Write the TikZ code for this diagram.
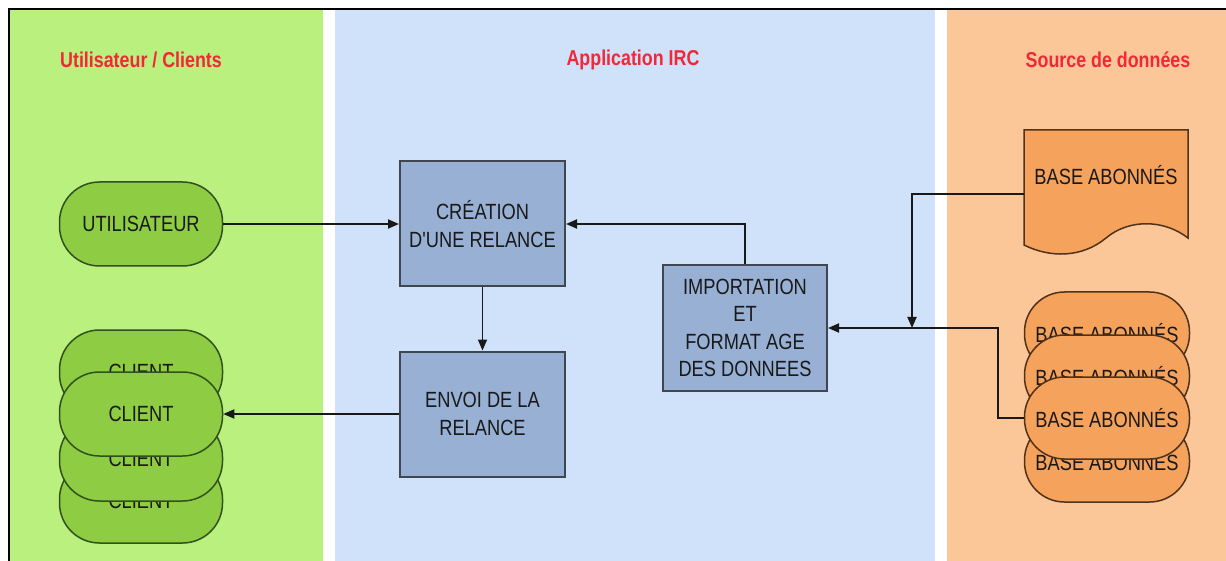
\documentclass[tikz,border=0pt]{standalone}
\usepackage{fontspec}
\setmainfont{Liberation Sans}
\newfontfamily\narrowsf[FakeStretch=0.83]{Liberation Sans}
\usetikzlibrary{arrows.meta,positioning}

\definecolor{lanegreen}{RGB}{186,240,126}
\definecolor{laneblue}{RGB}{207,226,249}
\definecolor{laneorange}{RGB}{252,199,152}
\definecolor{pillgreen}{RGB}{141,204,67}
\definecolor{pillgreenline}{RGB}{50,80,30}
\definecolor{boxblue}{RGB}{151,176,211}
\definecolor{boxline}{RGB}{64,70,80}
\definecolor{pillorange}{RGB}{245,162,92}
\definecolor{pillorangeline}{RGB}{80,50,25}
\definecolor{titlered}{RGB}{240,40,55}

\begin{document}
\begin{tikzpicture}[x=1pt,y=-1pt]
    \tikzset{>={Triangle[length=11pt,width=9pt]}}
    \tikzset{lane title/.style={text=titlered,font=\narrowsf\bfseries\fontsize{21.5}{25}\selectfont},
      txt/.style={text=black!90,font=\narrowsf\fontsize{22}{27.5}\selectfont,align=center},
      userpill/.style={txt,draw=pillgreenline,fill=pillgreen,line width=1.5pt,rounded corners=40pt,minimum width=163pt,minimum height=84pt},
      basepill/.style={userpill,draw=pillorangeline,fill=pillorange,minimum width=165pt,minimum height=82pt},
      appbox/.style={txt,draw=boxline,fill=boxblue,line width=2pt,minimum width=165pt,minimum height=125pt,inner sep=2pt},
      link/.style={->,line width=1.8pt,black!90}}
  \useasboundingbox (0,0) rectangle (1226,561);

  % lanes
  \fill[lanegreen] (10,10) rectangle (323,561);
  \fill[laneblue] (335,10) rectangle (935,561);
  \fill[laneorange] (947,10) rectangle (1226,561);
  \draw[line width=2pt] (9,561) -- (9,9) -- (1226,9);

\node[lane title] (TU) at (141,60) {Utilisateur / Clients};
\node[lane title] (TA) at (633,60) {Application IRC};
\node[lane title] (TS) at (1108,60) {Source de données};

\node[userpill] (U) at (141,224) {UTILISATEUR};
\node[userpill] (C1) at (141,372) {CLIENT};
\node[userpill] (C4) at (141,501) {CLIENT};
\node[userpill] (C3) at (141,459) {CLIENT};
\node[userpill] (C) at (141,414) {CLIENT};

\node[appbox] (CR) at (482.5,224) {CRÉATION\\D'UNE RELANCE};
\node[appbox, below=63pt of CR] (EN) {ENVOI DE LA\\RELANCE};
\node[appbox, minimum width=164pt, minimum height=126pt] (IM) at (745,328) {IMPORTATION\\ET\\FORMAT AGE\\DES DONNEES};

  % document base
  \filldraw[fill=pillorange,draw=pillorangeline,line width=1.5pt] (1024,130) -- (1188,130) -- (1188,238)
     .. controls (1165,220) and (1130,218) .. (1106,238) .. controls (1082,258) and (1050,258) .. (1024,245) -- cycle;
\node[txt] (BD) at (1106,175) {BASE ABONNÉS};
\coordinate (BDout) at (1024,194);

\node[basepill] (B1) at (1107,333) {BASE ABONNÉS};
\node[basepill] (B2) at (1107,376) {BASE ABONNÉS};
\node[basepill] (B4) at (1107,461) {BASE ABONNÉS};
\node[basepill] (B) at (1107,418) {BASE ABONNÉS};

\coordinate (J) at (912,328);

\draw [link] (U) -- (CR);
\draw [link] (CR) -- (EN);
\draw [link] (IM.north) |- (CR.east);
\draw [link] (EN) -- (C);

\draw [link] (BDout) -| (J);
\draw [link] (B.west) -- ++(-26,0) |- (IM.east);

\end{tikzpicture}
\end{document}
